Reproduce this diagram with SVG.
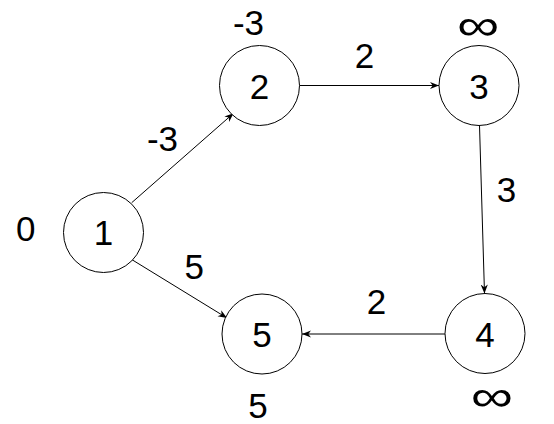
<svg xmlns="http://www.w3.org/2000/svg" width="554" height="424" viewBox="0 0 554 424">
<style>
.node circle{fill:#fff;stroke:#000;stroke-width:1}
text{font-family:"Liberation Sans",Arial,sans-serif;font-size:35px;fill:#000;text-anchor:middle}
.inf{font-size:44px}
.edges line{stroke:#000;stroke-width:1;marker-end:url(#arr)}
</style>
<defs>
<marker id="arr" viewBox="0 0 10 10" refX="10" refY="5" markerWidth="9" markerHeight="9" markerUnits="userSpaceOnUse" orient="auto">
<path d="M0,1 L10,5 L0,9 L3,5 z" fill="#000"/>
</marker>
</defs>
<rect width="554" height="424" fill="#fff"/>
<g class="edges" id="edges">
<line x1="131.7" y1="202.7" x2="233.5" y2="113.3"/>
<line x1="299.5" y1="85.5" x2="439" y2="85.5"/>
<line x1="479.5" y1="125.5" x2="484.5" y2="293.5"/>
<line x1="445" y1="334" x2="302" y2="334"/>
<line x1="131.7" y1="259.5" x2="227" y2="318"/>
<text x="162.5" y="150.5">-3</text>
<text x="364.5" y="67.5">2</text>
<text x="506.5" y="201.5">3</text>
<text x="194.3" y="278.5">5</text>
<text x="376.4" y="313.5">2</text>
</g>
<g class="node" id="n1"><circle cx="103.5" cy="232.5" r="40"/><text x="103.5" y="245">1</text><text x="25.7" y="240.5">0</text></g>
<g class="node" id="n2"><circle cx="259.5" cy="85.5" r="40"/><text x="259.5" y="98.5">2</text><text x="248.5" y="35">-3</text></g>
<g class="node" id="n3"><circle cx="479" cy="85.5" r="40"/><text x="479" y="98.5">3</text><text class="inf" x="478" y="40" textLength="42" lengthAdjust="spacingAndGlyphs">∞</text></g>
<g class="node" id="n4"><circle cx="485" cy="333.5" r="40"/><text x="485" y="346.5">4</text><text class="inf" x="491.7" y="410.5" textLength="42" lengthAdjust="spacingAndGlyphs">∞</text></g>
<g class="node" id="n5"><circle cx="262" cy="334" r="40"/><text x="262" y="346.7">5</text><text x="258" y="418">5</text></g>
</svg>
